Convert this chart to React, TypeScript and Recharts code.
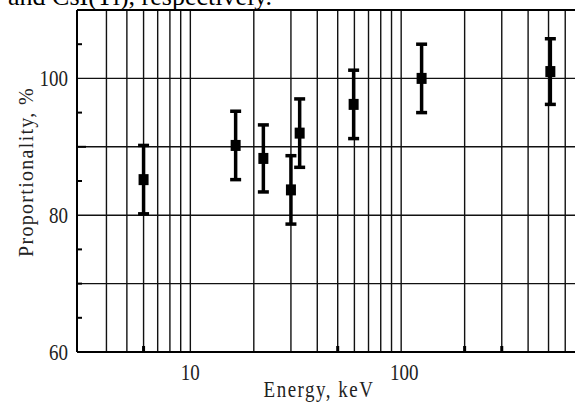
import React from 'react';
import { ScatterChart, Scatter, XAxis, YAxis, ErrorBar, ReferenceLine } from 'recharts';

// readings
const energies = [6, 16.4, 22.2, 30, 33, 59.5, 125, 510];
const proportionality = [85.2, 90.2, 88.3, 83.7, 92.0, 96.2, 100.0, 101.0];
const errors = [5, 5, 4.9, 5, 5, 5, 5, 4.8];

const xGrid = [4, 5, 6, 7, 8, 9, 10, 20, 30, 40, 50, 60, 70, 80, 90, 100, 200, 300, 400, 500, 600, 700, 800, 900];
const yGrid = [70, 80, 90, 100];
const xTicks = [6, 10, 50, 80, 100, 200, 300];
const xLabels = [10, 100];
const yTicks = [60, 65, 70, 75, 80, 85, 90, 95, 100, 105];
const yLabels = [60, 80, 100];

const FONT = '"Liberation Serif", "Times New Roman", serif';

const points = energies.map((e, i) => ({ energy: e, value: proportionality[i], err: errors[i] }));

const YTick = (props: any) => {
  const { x, y, payload } = props;
  const v = payload.value;
  if (yLabels.includes(v)) {
    return (
      <g transform={`translate(${x - 9},${y}) scale(1,1.2)`}>
        <text x={0} y={0} textAnchor="end" dominantBaseline="central" fontFamily={FONT} fontSize={19} fill="#222">
          {v}
        </text>
      </g>
    );
  }
  return <line x1={x} x2={x + (v === 90 ? 9 : 5)} y1={y} y2={y} stroke="#000" strokeWidth={2} />;
};

const XTick = (props: any) => {
  const { x, y, payload } = props;
  const v = payload.value;
  if (xLabels.includes(v)) {
    return (
      <g transform={`translate(${x + (v === 100 ? 3 : 0)},${y + 20}) scale(1,1.2)`}>
        <text x={0} y={0} textAnchor="middle" dominantBaseline="central" fontFamily={FONT} fontSize={19} fill="#222">
          {v}
        </text>
      </g>
    );
  }
  return <rect x={x - 1.5} y={y - 6} width={3} height={6} fill="#000" />;
};

const Marker = (props: any) => {
  const { cx, cy } = props;
  return <rect x={cx - 5} y={cy - 5.5} width={10} height={11} fill="#000" />;
};

export default function App() {
  return (
    <div style={{ position: 'absolute', left: 0, top: 0, width: 575, height: 403, overflow: 'hidden', background: '#fff' }}>
      <ScatterChart width={622} height={403} margin={{ top: 10, right: 10, bottom: 0, left: 0 }}>
        <XAxis
          type="number"
          dataKey="energy"
          scale="log"
          domain={[2.9, 1000]}
          allowDataOverflow
          ticks={xTicks}
          tick={<XTick />}
          tickLine={false}
          tickSize={0}
          tickMargin={0}
          height={51}
          axisLine={{ stroke: '#000', strokeWidth: 2 }}
        />
        <YAxis
          type="number"
          dataKey="value"
          domain={[60, 110]}
          allowDataOverflow
          ticks={yTicks}
          tick={<YTick />}
          tickLine={false}
          tickSize={0}
          tickMargin={0}
          width={77}
          axisLine={{ stroke: '#000', strokeWidth: 2 }}
        />
        {xGrid.map(v => (
          <ReferenceLine key={`vx-${v}`} x={v} stroke="#111" strokeWidth={1.4} />
        ))}
        {yGrid.map(v => (
          <ReferenceLine key={`hy-${v}`} y={v} stroke="#111" strokeWidth={1.4} />
        ))}
        <ReferenceLine y={110} stroke="#000" strokeWidth={2} />
        <Scatter data={points} shape={<Marker />} isAnimationActive={false}>
          <ErrorBar dataKey="err" direction="y" width={5.5} stroke="#000" strokeWidth={3.5} isAnimationActive={false} />
        </Scatter>
      </ScatterChart>
      <svg width={575} height={403} style={{ position: 'absolute', left: 0, top: 0, pointerEvents: 'none' }}>
        <text x={8} y={5} fontFamily={FONT} fontSize={26} fill="#000">
          and CsI(Tl), respectively.
        </text>
        <g transform="translate(319,397) scale(1,1.2)">
          <text x={0} y={0} textAnchor="middle" fontFamily={FONT} fontSize={19} letterSpacing={1.5} fill="#222">
            Energy, keV
          </text>
        </g>
        <g transform="translate(26,172) rotate(-90)">
          <text x={0} y={0} textAnchor="middle" dominantBaseline="central" fontFamily={FONT} fontSize={20} letterSpacing={1.3} fill="#222">
            Proportionality, %
          </text>
        </g>
      </svg>
    </div>
  );
}
